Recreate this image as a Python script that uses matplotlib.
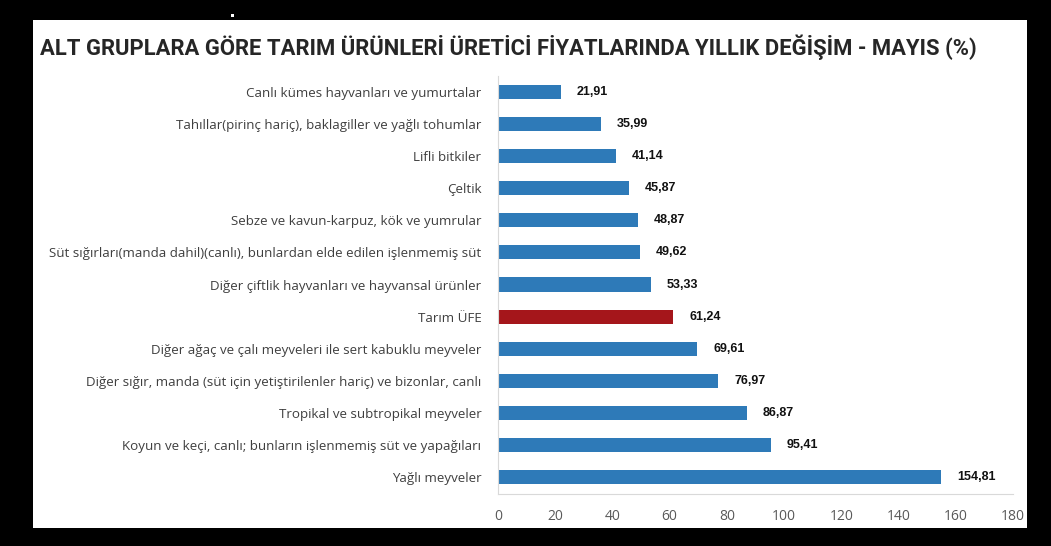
import matplotlib
matplotlib.use("Agg")
import matplotlib.pyplot as plt
from matplotlib.patches import Rectangle

categories = [
    "Canlı kümes hayvanları ve yumurtalar",
    "Tahıllar(pirinç hariç), baklagiller ve yağlı tohumlar",
    "Lifli bitkiler",
    "Çeltik",
    "Sebze ve kavun-karpuz, kök ve yumrular",
    "Süt sığırları(manda dahil)(canlı), bunlardan elde edilen işlenmemiş süt",
    "Diğer çiftlik hayvanları ve hayvansal ürünler",
    "Tarım ÜFE",
    "Diğer ağaç ve çalı meyveleri ile sert kabuklu meyveler",
    "Diğer sığır, manda (süt için yetiştirilenler hariç) ve bizonlar, canlı",
    "Tropikal ve subtropikal meyveler",
    "Koyun ve keçi, canlı; bunların işlenmemiş süt ve yapağıları",
    "Yağlı meyveler",
]
values = [21.91, 35.99, 41.14, 45.87, 48.87, 49.62, 53.33, 61.24, 69.61, 76.97, 86.87, 95.41, 154.81]
highlight = "Tarım ÜFE"
xticks = [0, 20, 40, 60, 80, 100, 120, 140, 160, 180]

W, H = 1051, 546
fig = plt.figure(figsize=(W / 100, H / 100), dpi=100)
fig.patch.set_facecolor("black")
fig.patches.append(Rectangle((33 / W, 1 - 528 / H), (1027 - 33) / W, (528 - 20) / H,
                             transform=fig.transFigure, facecolor="white", edgecolor="none", zorder=-5))
fig.patches.append(Rectangle((231 / W, 1 - 17 / H), 3 / W, 3 / H,
                             transform=fig.transFigure, facecolor="white", edgecolor="none", zorder=-5))

ax = fig.add_axes([498 / W, 1 - 494 / H, (1013 - 498) / W, (494 - 76) / H])
ax.set_zorder(5)
ax.set_facecolor("none")
colors = ["#A5161B" if c == highlight else "#2E7AB8" for c in categories]
ypos = list(range(len(categories)))
ax.barh(ypos, values, height=0.44, color=colors, zorder=2)
ax.set_ylim(12.53, -0.5)
ax.set_xlim(0, 180)
ax.set_xticks(xticks)
ax.set_xticklabels([str(t) for t in xticks], fontsize=10, color="#595959", family="Open Sans")
ax.set_yticks(ypos)
ax.set_yticklabels(categories, fontsize=9.6, color="#3F3F3F", family="Open Sans")
ax.tick_params(axis="both", length=0)
ax.tick_params(axis="y", pad=12)
ax.tick_params(axis="x", pad=11)
for s in ["top", "right"]:
    ax.spines[s].set_visible(False)
ax.spines["left"].set_color("#D9D9D9")
ax.spines["bottom"].set_color("#D9D9D9")

for y, v in zip(ypos, values):
    ax.annotate(f"{v:.2f}".replace(".", ","), xy=(v, y), xytext=(16, 0), textcoords="offset pixels",
                ha="left", va="center", fontsize=9, fontweight="bold", color="#111111",
                family="Liberation Sans")

title = fig.text(40 / W, 1 - 47 / H,
                 "ALT GRUPLARA GÖRE TARIM ÜRÜNLERİ ÜRETİCİ FİYATLARINDA YILLIK DEĞİŞİM - MAYIS (%)",
                 ha="left", va="center", fontsize=15, fontweight="bold", color="#262626",
                 family="Roboto", zorder=6)
renderer = fig.canvas.get_renderer()
wpx = title.get_window_extent(renderer).width
title.set_fontsize(15 * 938 / wpx)

fig.savefig("out.png", dpi=100, facecolor=fig.get_facecolor())
